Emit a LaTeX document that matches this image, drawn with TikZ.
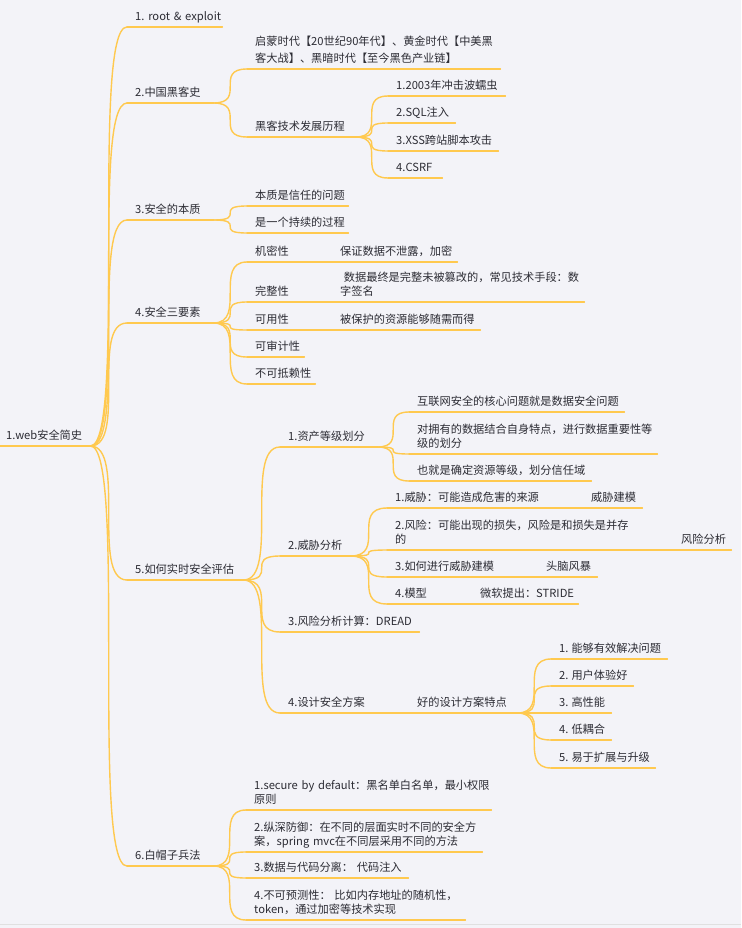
\documentclass[tikz,border=0pt]{standalone}
\usepackage{fontspec}
\setmainfont{Noto Sans CJK SC}
\hyphenpenalty=10000 \exhyphenpenalty=10000 \hbadness=10000 \hfuzz=200pt
\definecolor{paper}{HTML}{F3F3F8}
\definecolor{twig}{HTML}{FFC94F}
\definecolor{ink}{HTML}{2C2C34}
\tikzset{
  topic/.style={anchor=south west, inner xsep=0pt, inner ysep=1.8pt, align=left, text=ink,
    font=\fontsize{11.2}{14}\selectfont, execute at end node=\strut},
  twig/.style={draw=twig, line width=1.4pt, line cap=round},
}
\begin{document}
\begin{tikzpicture}[x=1pt,y=-1pt]
\fill[paper] (0,0) rectangle (741,928);
\useasboundingbox (0,0) rectangle (741,928);
\draw[black!12, line width=1pt] (0,924) -- (741,924);
% root and main branches
\node[topic,text width=84] (web) at (6,446) {1.web安全简史};
\node[topic,text width=87] (root) at (135,27) {1.~root~\&~exploit};
\node[topic,text width=78] (cn) at (135,103) {2.中国黑客史};
\node[topic,text width=78] (ess) at (135,220) {3.安全的本质};
\node[topic,text width=78] (cia) at (135,323) {4.安全三要素};
\node[topic,text width=108] (eval) at (135,580) {5.如何实时安全评估};
\node[topic,text width=78] (white) at (135,866) {6.白帽子兵法};
% 2
\node[topic,text width=245] (era) at (255,69) {启蒙时代【20世纪90年代】、黄金时代【中美黑\\[3pt]客大战】、黑暗时代【至今黑色产业链】};
\node[topic,text width=100] (tech) at (255,137) {黑客技术发展历程};
\node[topic,text width=109] (t1) at (396,96) {1.2003年冲击波蠕虫};
\node[topic,text width=59] (t2) at (396,123) {2.SQL注入};
\node[topic,text width=102] (t3) at (396,151) {3.XSS跨站脚本攻击};
\node[topic,text width=46] (t4) at (396,178) {4.CSRF};
% 3
\node[topic,text width=93] (e1) at (255,206) {本质是信任的问题};
\node[topic,text width=93] (e2) at (255,233) {是一个持续的过程};
% 4
\node[topic,text width=77] (conf) at (255,262) {机密性};
\node[topic,text width=117] (confx) at (340,262) {保证数据不泄露，加密};
\node[topic,text width=77] (integ) at (255,302) {完整性};
\node[topic,text width=244] (integx) at (340,302) {\ 数据最终是完整未被篡改的，常见技术手段：数\\字签名};
\node[topic,text width=77] (avail) at (255,330) {可用性};
\node[topic,text width=140] (availx) at (340,330) {被保护的资源能够随需而得};
\node[topic,text width=49] (audit) at (255,357) {可审计性};
\node[topic,text width=60] (nonrep) at (255,384) {不可抵赖性};
% 5
\node[topic,text width=89] (asset) at (288,447) {1.资产等级划分};
\node[topic,text width=207] (a1) at (417,412) {互联网安全的核心问题就是数据安全问题};
\node[topic,text width=240] (a2) at (417,454) {对拥有的数据结合自身特点，进行数据重要性等\\级的划分};
\node[topic,text width=174] (a3) at (417,481) {也就是确定资源等级，划分信任域};
\node[topic,text width=62] (threat) at (288,556) {2.威胁分析};
\node[topic,text width=188] (th1) at (395,508) {1.威胁：可能造成危害的来源};
\node[topic,text width=51] (th1x) at (591,508) {威胁建模};
\node[topic,text width=278] (th2) at (395,550) {2.风险：可能出现的损失，风险是和损失是并存\\的};
\node[topic,text width=50] (th2x) at (681,550) {风险分析};
\node[topic,text width=143] (th3) at (395,577) {3.如何进行威胁建模};
\node[topic,text width=51] (th3x) at (546,577) {头脑风暴};
\node[topic,text width=77] (th4) at (395,604) {4.模型};
\node[topic,text width=98] (th4x) at (480,604) {微软提出：STRIDE};
\node[topic,text width=131] (dread) at (288,632) {3.风险分析计算：DREAD};
\node[topic,text width=121] (design) at (288,713) {4.设计安全方案};
\node[topic,text width=100] (good) at (417,713) {好的设计方案特点};
\node[topic,text width=108] (g1) at (559,659) {1.\hspace{3pt}能够有效解决问题};
\node[topic,text width=74] (g2) at (559,686) {2.\hspace{3pt}用户体验好};
\node[topic,text width=52] (g3) at (559,713) {3.\hspace{3pt}高性能};
\node[topic,text width=52] (g4) at (559,740) {4.\hspace{3pt}低耦合};
\node[topic,text width=96] (g5) at (559,768) {5.\hspace{3pt}易于扩展与升级};
% 6
\node[topic,text width=237] (w1) at (254,810) {1.secure~by~default：黑名单白名单，最小权限\\原则};
\node[topic,text width=228] (w2) at (254,852) {2.纵深防御：在不同的层面实时不同的安全方\\案，spring~mvc在不同层采用不同的方法};
\node[topic,text width=154] (w3) at (254,878) {3.数据与代码分离：~代码注入};
\node[topic,text width=211] (w4) at (254,920) {4.不可预测性：~比如内存地址的随机性，\\token，通过加密等技术实现};

% underlines
\foreach \n in {web,root,cn,ess,cia,eval,white,era,tech,t1,t2,t3,t4,e1,e2,conf,confx,integ,integx,avail,availx,audit,nonrep,asset,a1,a2,a3,threat,th1,th1x,th2,th2x,th3,th3x,th4,th4x,dread,design,good,g1,g2,g3,g4,g5,w1,w2,w3,w4}
  {\coordinate (\n-in) at ([xshift=-8pt]\n.south west); \draw[twig] (\n-in) -- (\n.south east);}
% branches
\foreach \p/\c in {web/root,web/cn,web/ess,web/cia,web/eval,web/white,cn/era,cn/tech,tech/t1,tech/t2,tech/t3,tech/t4,ess/e1,ess/e2,cia/conf,cia/integ,cia/avail,cia/audit,cia/nonrep,conf/confx,integ/integx,avail/availx,eval/asset,eval/threat,eval/dread,eval/design,asset/a1,asset/a2,asset/a3,threat/th1,threat/th2,threat/th3,threat/th4,th1/th1x,th2/th2x,th3/th3x,th4/th4x,design/good,good/g1,good/g2,good/g3,good/g4,good/g5,white/w1,white/w2,white/w3,white/w4}
  \draw[twig] (\p.south east) .. controls (\p.south east -| \c-in) and (\c-in -| \p.south east) .. (\c-in);
\end{tikzpicture}
\end{document}
